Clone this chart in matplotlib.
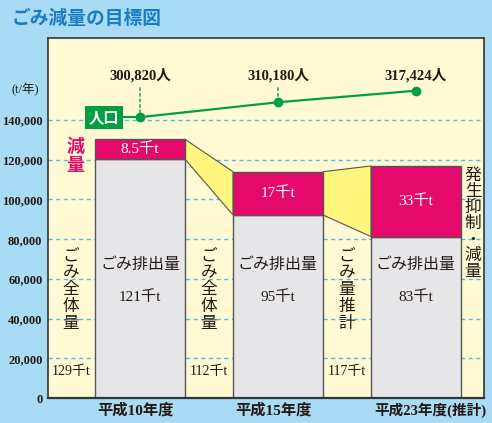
import numpy as np
import matplotlib.pyplot as plt

years = ['平成10年度', '平成15年度', '平成23年度(推計)']
discharge = np.array([120300, 92200, 81300])   # gray part, t/年 (as drawn)
total = np.array([130300, 114000, 116900])     # gray + reduction (as drawn)
reduction = total - discharge
discharge_lbl = ['121千t', '95千t', '83千t']
reduction_lbl = ['8.5千t', '17千t', '33千t']
total_lbl = ['129千t', '112千t', '117千t']
total_name = ['ごみ全体量', 'ごみ全体量', 'ごみ量推計']
population = [300820, 310180, 317424]

BLUE_BG = '#a9dcf4'
CREAM = '#fffad4'
MAGENTA = '#e5096c'
GRAY = '#e6e6e8'
YELLOW = '#fff57f'
GREEN = '#00a042'
INK = '#231815'
SERIF = ['Liberation Serif', 'Noto Sans CJK JP']
SANS = ['Noto Sans CJK JP', 'DejaVu Sans']

fig = plt.figure(figsize=(4.92, 4.23), dpi=100, facecolor=BLUE_BG)
ax = fig.add_axes([48/492, 25/423, 436/492, 360/423])
ax.set_facecolor(CREAM)
ax.set_xlim(-0.667, 2.493)
ax.set_ylim(0, 181360)

x = np.arange(len(years))
w = 0.652
ax.bar(x, discharge, w, color=GRAY, edgecolor='#555555', lw=1, zorder=2)
ax.bar(x, reduction, w, bottom=discharge, color=MAGENTA, edgecolor='#555555', lw=1, zorder=2)
for i in range(len(x) - 1):
    xs = [x[i] + w/2, x[i+1] - w/2, x[i+1] - w/2, x[i] + w/2]
    ys = [total[i], total[i+1], discharge[i+1], discharge[i]]
    ax.fill(xs, ys, facecolor=YELLOW, edgecolor='#555555', lw=0.8, zorder=1.9)

yt = np.arange(0, 140001, 20000)
ax.set_yticks(yt)
ax.set_yticklabels([f'{v:,}' for v in yt], family=SERIF, fontsize=9, color=INK,
                   fontweight='bold')
ax.set_xticks([])
ax.tick_params(axis='y', length=0, pad=4)
ax.grid(axis='y', color='#4fbde6', ls=(0, (3, 2.5)), lw=1)
ax.set_axisbelow(True)
for s in ax.spines.values():
    s.set_color('#333333')
    s.set_linewidth(1.2)
ax.spines['bottom'].set_linewidth(1.6)

# labels inside/around bars
for i in x:
    ax.text(i, (discharge[i] + total[i]) / 2, reduction_lbl[i], ha='center', va='center',
            color='white', fontsize=11, family=SERIF, zorder=4)
    ax.text(i, 67500, 'ごみ排出量', ha='center', va='center', color=INK,
            fontsize=11.5, family=SANS, zorder=4)
    ax.text(i, 50900, discharge_lbl[i], ha='center', va='center', color=INK,
            fontsize=11, family=SERIF, zorder=4)
    ax.text(i - 0.5, 54500, '\n'.join(total_name[i]), ha='center', va='center', color=INK,
            fontsize=12, family=SANS, linespacing=0.98, zorder=4)
    ax.text(i - 0.5, 13100, total_lbl[i], ha='center', va='center', color=INK,
            fontsize=10, family=SERIF, zorder=4)

ax.text(2.413, 87900, '\n'.join('発生抑制・減量'), ha='center', va='center', color=INK,
        fontsize=12, family=SANS, linespacing=0.92, zorder=4)
ax.text(-0.47, 121900, '減\n量', ha='center', va='center', color=MAGENTA,
        fontsize=13, fontweight='bold', family=SANS, linespacing=0.95, zorder=4)

year_x = [-0.03, -0.03 + 1, 1.70]
year_ha = ['center', 'center', 'left']
year_fs = [11, 11, 10.5]
for xi, ha, fs, t in zip(year_x, year_ha, year_fs, years):
    ax.text(xi, -0.033, t, transform=ax.get_xaxis_transform(), ha=ha, va='center',
            fontsize=fs, fontweight='bold', family=SERIF, color=INK, clip_on=False)

# population line on its own scale
ax2 = ax.twinx()
ax2.set_ylim(124540, 350510)
ax2.axis('off')
ax2.plot([-0.15, 0], [population[0]] * 2, color=GREEN, lw=1.6, zorder=2)
ax2.plot(x, population, color=GREEN, lw=1.6, marker='o', ms=6, zorder=3)
ax2.text(-0.15, population[0], '人口', ha='right', va='center', color='white', fontsize=11,
         fontweight='bold', family=SANS, zorder=4,
         bbox=dict(boxstyle='square,pad=0.22', fc=GREEN, ec='none'))
for i, p in enumerate(population):
    arrow = dict(arrowstyle='-', color=GREEN, ls=(0, (2, 2)), lw=1, shrinkA=2, shrinkB=0) if i < 2 else None
    ax2.annotate(f'{p:,}人', xy=(i, p), xytext=(i, 0.897), textcoords=('data', 'axes fraction'),
                 ha='center', va='center', fontsize=10.5, fontweight='bold', family=SERIF,
                 color=INK, arrowprops=arrow)

fig.text(12/492, 1 - 18/423, 'ごみ減量の目標図', ha='left', va='center', fontsize=13.5,
         fontweight='bold', color='#1b7cc4', family=SANS)
fig.text(25/492, 1 - 90/423, '(t/年)', ha='center', va='center', fontsize=9,
         family=SERIF, color=INK)

fig.savefig('out.png', dpi=100, facecolor=BLUE_BG)
